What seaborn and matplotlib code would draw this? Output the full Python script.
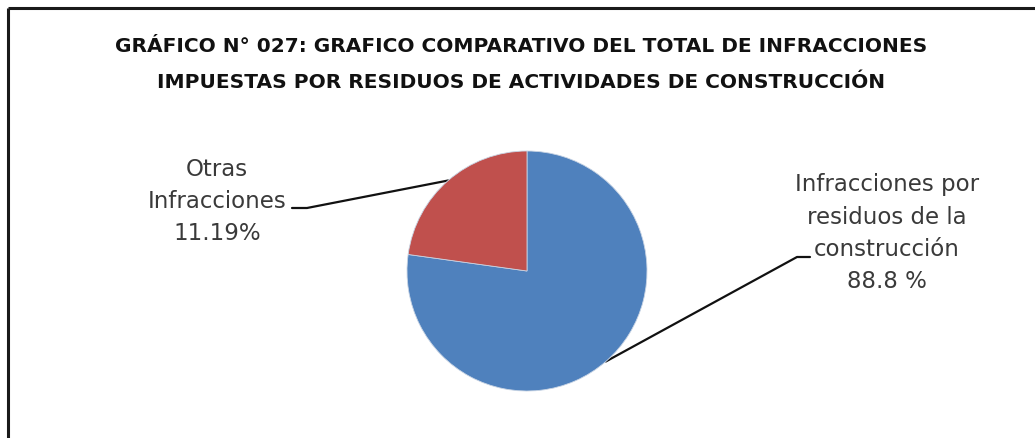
import matplotlib
matplotlib.use("Agg")
import matplotlib.pyplot as plt
import seaborn as sns
import numpy as np

# ---- data (slice sizes; label texts as printed) ----
categories = ["Infracciones por\nresiduos de la\nconstrucción", "Otras\nInfracciones"]
shown_pct = ["88.8 %", "11.19%"]
slice_values = [77.2, 22.8]
title_lines = ["GRÁFICO N° 027: GRAFICO COMPARATIVO DEL TOTAL DE INFRACCIONES",
               "IMPUESTAS POR RESIDUOS DE ACTIVIDADES DE CONSTRUCCIÓN"]
colors = ["#4F81BD", "#C0504D"]

sns.set_theme(style="white")
plt.rcParams['font.family'] = ['DejaVu Sans']
palette = sns.color_palette(colors)

W, H = 1035, 438
fig = plt.figure(figsize=(W / 100, H / 100), dpi=100)
fig.patch.set_facecolor("white")

# overlay axes in pixel coordinates
ov = fig.add_axes([0, 0, 1, 1])
ov.set_xlim(0, W)
ov.set_ylim(H, 0)
ov.axis("off")

# frame (left and top edges visible)
ov.plot([8, 8], [8, H], color="#1a1a1a", lw=2.2, solid_capstyle="butt")
ov.plot([8, W], [8, 8], color="#1a1a1a", lw=2.2, solid_capstyle="butt")

# pie axes
cx, cy, r = 527, 271, 120
ax = fig.add_axes([(cx - r) / W, (H - cy - r) / H, 2 * r / W, 2 * r / H])
wedges, _ = ax.pie(slice_values, colors=palette, startangle=90, counterclock=False,
                   radius=1.0, wedgeprops=dict(linewidth=0.6, edgecolor="#c8d4e4"))
ax.set_xlim(-1, 1)
ax.set_ylim(-1, 1)
ax.set_aspect("equal")
ax.axis("off")

def anchor(w):
    ang = np.deg2rad((w.theta1 + w.theta2) / 2)
    return cx + r * np.cos(ang), cy - r * np.sin(ang)

txt_color = "#3a3a3a"
fs = 16.5

# right label (blue slice)
ax0, ay0 = anchor(wedges[0])
ov.plot([ax0, 797, 810], [ay0, 257, 257], color="#111111", lw=1.6)
ov.text(887, 233, categories[0] + "\n" + shown_pct[0], ha="center", va="center",
        fontsize=fs, color=txt_color, linespacing=1.5)

# left label (red slice)
ax1, ay1 = anchor(wedges[1])
ov.plot([ax1, 307, 292], [ay1, 208, 208], color="#111111", lw=1.6)
ov.text(217, 201, categories[1] + "\n" + shown_pct[1], ha="center", va="center",
        fontsize=fs, color=txt_color, linespacing=1.5)

# title
ov.text(521, 47, title_lines[0], ha="center", va="center", fontsize=14.5,
        fontweight="bold", color="#111111")
ov.text(521, 83, title_lines[1], ha="center", va="center", fontsize=14.5,
        fontweight="bold", color="#111111")

fig.savefig("out.png", dpi=100)
